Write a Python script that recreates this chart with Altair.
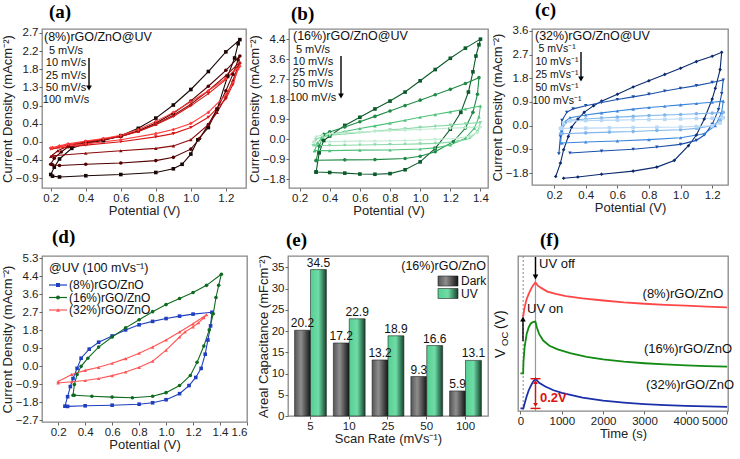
import altair as alt
import pandas as pd

FONT = "Liberation Sans"
SERIF = "Liberation Serif"

# ---------------- (a) (8%)rGO/ZnO@UV ----------------
A_LABEL = "(8%)rGO/ZnO@UV"
A_RATES = ["5 mV/s", "10 mV/s", "25 mV/s", "50 mV/s", "100 mV/s"]
A_FWD_V = [
    [0.20, 0.22, 0.25, 0.32, 0.40, 0.50, 0.60, 0.70, 0.80, 0.90, 1.00, 1.10, 1.20, 1.28],
    [0.20, 0.22, 0.26, 0.30, 0.40, 0.50, 0.60, 0.70, 0.80, 0.90, 1.00, 1.10, 1.20, 1.28],
    [0.20, 0.24, 0.30, 0.40, 0.50, 0.60, 0.70, 0.80, 0.90, 1.00, 1.10, 1.20, 1.28],
    [0.20, 0.25, 0.30, 0.40, 0.50, 0.60, 0.70, 0.80, 0.90, 1.00, 1.10, 1.20, 1.28],
    [0.20, 0.25, 0.30, 0.40, 0.50, 0.60, 0.70, 0.80, 0.90, 1.00, 1.10, 1.20, 1.28],
]
A_FWD_J = [
    [-0.80, -0.62, -0.42, -0.16, -0.04, 0.03, 0.15, 0.33, 0.58, 0.90, 1.28, 1.72, 2.20, 2.50],
    [-0.55, -0.40, -0.25, -0.12, -0.02, 0.05, 0.13, 0.27, 0.46, 0.70, 1.00, 1.36, 1.75, 2.10],
    [-0.36, -0.22, -0.10, 0.00, 0.06, 0.14, 0.26, 0.43, 0.65, 0.92, 1.25, 1.62, 1.95],
    [-0.18, -0.12, -0.07, 0.00, 0.06, 0.13, 0.25, 0.42, 0.62, 0.88, 1.18, 1.52, 1.90],
    [-0.15, -0.10, -0.05, 0.02, 0.08, 0.16, 0.30, 0.50, 0.72, 0.98, 1.25, 1.55, 1.85],
]
A_REV_V = [
    [1.27, 1.25, 1.21, 1.15, 1.10, 1.04, 1.00, 0.95, 0.90, 0.80, 0.60, 0.40, 0.25, 0.21],
    [1.27, 1.24, 1.20, 1.15, 1.10, 1.05, 1.00, 0.90, 0.80, 0.60, 0.40, 0.25, 0.21],
    [1.27, 1.24, 1.20, 1.15, 1.10, 1.00, 0.90, 0.80, 0.60, 0.40, 0.21],
    [1.27, 1.24, 1.20, 1.10, 1.00, 0.90, 0.80, 0.60, 0.40, 0.21],
    [1.27, 1.24, 1.20, 1.10, 1.00, 0.90, 0.80, 0.60, 0.40, 0.21],
]
A_REV_J = [
    [2.40, 2.05, 1.60, 0.80, 0.35, 0.05, -0.30, -0.55, -0.66, -0.75, -0.80, -0.83, -0.86, -0.84],
    [2.00, 1.65, 1.25, 0.80, 0.42, 0.08, -0.18, -0.38, -0.46, -0.52, -0.55, -0.58, -0.56],
    [1.85, 1.50, 1.10, 0.72, 0.42, 0.05, -0.10, -0.16, -0.22, -0.28, -0.34],
    [1.80, 1.40, 1.05, 0.60, 0.35, 0.20, 0.12, 0.00, -0.08, -0.17],
    [1.78, 1.45, 1.15, 0.72, 0.45, 0.30, 0.20, 0.05, -0.05, -0.14],
]
A_XTICKS = [0.2, 0.4, 0.6, 0.8, 1.0, 1.2]
A_YTICKS = [-0.888, -0.444, 0.0, 0.444, 0.888, 1.332, 1.776, 2.22, 2.664]

# ---------------- (b) (16%)rGO/ZnO@UV ----------------
B_LABEL = "(16%)rGO/ZnO@UV"
B_RATES = ["5 mV/s", "10 mV/s", "25 mV/s", "50 mV/s", "100 mV/s"]
B_FWD_V = [
    [0.31, 0.33, 0.36, 0.40, 0.50, 0.60, 0.70, 0.80, 0.90, 1.00, 1.10, 1.20, 1.30, 1.40],
    [0.31, 0.33, 0.36, 0.40, 0.50, 0.60, 0.70, 0.80, 0.90, 1.00, 1.10, 1.20, 1.30, 1.39],
    [0.30, 0.32, 0.35, 0.40, 0.50, 0.60, 0.70, 0.80, 0.90, 1.00, 1.10, 1.20, 1.30, 1.40],
    [0.29, 0.31, 0.35, 0.40, 0.50, 0.60, 0.70, 0.80, 0.90, 1.00, 1.10, 1.20, 1.30, 1.40],
    [0.29, 0.31, 0.35, 0.40, 0.50, 0.60, 0.70, 0.80, 0.90, 1.00, 1.10, 1.20, 1.30, 1.40],
]
B_FWD_J = [
    [-1.45, -0.60, -0.05, 0.15, 0.62, 0.98, 1.35, 1.70, 2.10, 2.60, 3.10, 3.60, 4.05, 4.45],
    [-0.95, -0.30, 0.22, 0.33, 0.55, 0.78, 1.02, 1.26, 1.50, 1.74, 1.98, 2.22, 2.48, 2.74],
    [-0.50, -0.15, 0.08, 0.20, 0.35, 0.48, 0.60, 0.72, 0.85, 0.98, 1.10, 1.22, 1.35, 1.48],
    [-0.28, 0.00, 0.12, 0.18, 0.24, 0.30, 0.36, 0.42, 0.47, 0.53, 0.58, 0.63, 0.69, 0.75],
    [-0.12, 0.12, 0.20, 0.25, 0.29, 0.32, 0.35, 0.38, 0.41, 0.44, 0.47, 0.50, 0.52, 0.55],
]
B_REV_V = [
    [1.39, 1.37, 1.35, 1.32, 1.27, 1.20, 1.10, 1.00, 0.90, 0.80, 0.70, 0.60, 0.50, 0.40, 0.31],
    [1.38, 1.35, 1.30, 1.22, 1.10, 1.00, 0.90, 0.70, 0.50, 0.31],
    [1.39, 1.36, 1.30, 1.20, 1.10, 1.00, 0.80, 0.60, 0.40, 0.30],
    [1.38, 1.33, 1.25, 1.10, 1.00, 0.90, 0.80, 0.70, 0.60, 0.50, 0.40, 0.30],
    [1.38, 1.33, 1.25, 1.10, 1.00, 0.90, 0.80, 0.70, 0.60, 0.50, 0.40, 0.30],
]
B_REV_J = [
    [4.20, 3.70, 3.00, 2.10, 1.20, 0.45, -0.40, -1.00, -1.35, -1.52, -1.55, -1.54, -1.50, -1.47, -1.45],
    [2.00, 1.20, 0.50, -0.10, -0.55, -0.75, -0.85, -0.90, -0.91, -0.93],
    [1.00, 0.50, 0.05, -0.25, -0.38, -0.43, -0.47, -0.48, -0.50, -0.50],
    [0.35, 0.05, -0.10, -0.18, -0.20, -0.22, -0.23, -0.24, -0.25, -0.26, -0.27, -0.28],
    [0.30, 0.15, 0.05, 0.00, -0.03, -0.05, -0.06, -0.07, -0.08, -0.09, -0.10, -0.12],
]
B_XTICKS = [0.2, 0.4, 0.6, 0.8, 1.0, 1.2, 1.4]
B_YTICKS = [-1.776, -0.888, 0.0, 0.888, 1.776, 2.664, 3.552, 4.44]

# ---------------- (c) (32%)rGO/ZnO@UV ----------------
C_LABEL = "(32%)rGO/ZnO@UV"
C_RATES = ["5 mVs⁻¹", "10 mVs⁻¹", "25 mVs⁻¹", "50 mVs⁻¹", "100 mVs⁻¹"]
C_FWD_V = [
    [0.21, 0.24, 0.26, 0.29, 0.31, 0.35, 0.39, 0.45, 0.50, 0.60, 0.70, 0.80, 0.90, 1.00, 1.10, 1.20, 1.26],
    [0.23, 0.24, 0.25, 0.28, 0.32, 0.40, 0.50, 0.60, 0.70, 0.80, 0.90, 1.00, 1.10, 1.20, 1.27],
    [0.24, 0.25, 0.27, 0.30, 0.40, 0.50, 0.60, 0.70, 0.80, 0.90, 1.00, 1.10, 1.20, 1.27],
    [0.24, 0.26, 0.30, 0.40, 0.50, 0.60, 0.70, 0.80, 0.90, 1.00, 1.10, 1.20, 1.27],
    [0.24, 0.26, 0.30, 0.40, 0.50, 0.60, 0.70, 0.80, 0.90, 1.00, 1.10, 1.20, 1.27],
]
C_FWD_J = [
    [-1.90, -1.40, -0.90, -0.40, -0.06, 0.25, 0.50, 0.75, 0.92, 1.18, 1.45, 1.68, 1.92, 2.15, 2.40, 2.60, 2.75],
    [-1.05, -0.40, 0.20, 0.50, 0.63, 0.75, 0.87, 0.98, 1.08, 1.18, 1.30, 1.40, 1.50, 1.62, 1.71],
    [-0.65, -0.20, 0.15, 0.30, 0.40, 0.48, 0.55, 0.62, 0.68, 0.73, 0.78, 0.83, 0.88, 0.92],
    [-0.30, 0.05, 0.20, 0.25, 0.29, 0.32, 0.35, 0.38, 0.40, 0.42, 0.45, 0.47, 0.50],
    [-0.10, 0.10, 0.18, 0.19, 0.20, 0.21, 0.22, 0.23, 0.24, 0.25, 0.27, 0.28, 0.30],
]
C_REV_V = [
    [1.25, 1.22, 1.20, 1.15, 1.10, 1.05, 0.96, 0.85, 0.70, 0.50, 0.35, 0.26],
    [1.26, 1.24, 1.20, 1.15, 1.10, 1.00, 0.85, 0.70, 0.50, 0.30],
    [1.26, 1.22, 1.15, 1.00, 0.80, 0.60, 0.40, 0.25],
    [1.25, 1.20, 1.10, 1.00, 0.85, 0.70, 0.55, 0.40, 0.25],
    [1.25, 1.20, 1.10, 1.00, 0.85, 0.70, 0.55, 0.40, 0.25],
]
C_REV_J = [
    [2.10, 1.40, 1.00, 0.25, -0.35, -0.75, -1.30, -1.55, -1.70, -1.82, -1.92, -1.97],
    [1.20, 0.60, 0.05, -0.35, -0.55, -0.70, -0.80, -0.88, -0.95, -1.02],
    [0.50, 0.00, -0.30, -0.45, -0.52, -0.57, -0.61, -0.65],
    [0.20, 0.00, -0.10, -0.15, -0.18, -0.22, -0.24, -0.27, -0.30],
    [0.10, 0.00, -0.03, -0.05, -0.06, -0.07, -0.08, -0.09, -0.10],
]
C_XTICKS = [0.2, 0.4, 0.6, 0.8, 1.0, 1.2]
C_YTICKS = [-1.776, -0.888, 0.0, 0.888, 1.776, 2.664, 3.552]

# ---------------- (d) @UV (100 mVs-1) ----------------
D_LABEL = "@UV (100 mVs⁻¹)"
D_NAMES = ["(8%)rGO/ZnO", "(16%)rGO/ZnO", "(32%)rGO/ZnO"]
D_FWD_V = [
    [0.25, 0.27, 0.29, 0.31, 0.34, 0.37, 0.43, 0.50, 0.60, 0.70, 0.80, 0.90, 1.00, 1.10, 1.20, 1.34],
    [0.31, 0.32, 0.34, 0.37, 0.42, 0.50, 0.60, 0.70, 0.80, 0.90, 1.00, 1.10, 1.20, 1.30, 1.41],
    [0.20, 0.30, 0.40, 0.50, 0.60, 0.70, 0.80, 0.90, 1.00, 1.10, 1.20, 1.30],
]
D_FWD_J = [
    [-1.97, -1.50, -1.00, -0.60, -0.10, 0.40, 0.85, 1.19, 1.50, 1.80, 2.05, 2.22, 2.36, 2.48, 2.58, 2.67],
    [-1.43, -0.90, -0.40, 0.00, 0.40, 0.95, 1.45, 1.90, 2.30, 2.70, 3.05, 3.35, 3.65, 4.00, 4.55],
    [-0.75, -0.40, -0.20, -0.05, 0.15, 0.38, 0.65, 0.95, 1.30, 1.70, 2.10, 2.55],
]
D_REV_V = [
    [1.33, 1.31, 1.29, 1.26, 1.22, 1.17, 1.10, 1.00, 0.90, 0.80, 0.60, 0.40, 0.27],
    [1.39, 1.37, 1.35, 1.32, 1.28, 1.23, 1.18, 1.10, 1.00, 0.90, 0.75, 0.60, 0.45, 0.32],
    [1.28, 1.24, 1.20, 1.14, 1.10, 1.00, 0.90, 0.80, 0.70, 0.60, 0.50, 0.40, 0.30, 0.20],
]
D_REV_J = [
    [2.00, 1.30, 0.60, -0.10, -0.55, -0.95, -1.35, -1.65, -1.80, -1.87, -1.92, -1.95, -1.98],
    [4.00, 3.40, 2.60, 1.80, 1.00, 0.20, -0.45, -0.95, -1.30, -1.48, -1.55, -1.52, -1.48, -1.43],
    [2.40, 2.15, 1.95, 1.70, 1.45, 0.80, 0.25, -0.05, -0.28, -0.46, -0.60, -0.70, -0.76, -0.82],
]
D_XTICKS = [0.2, 0.4, 0.6, 0.8, 1.0, 1.2, 1.4, 1.6]
D_YTICKS = [-2.664, -1.776, -0.888, 0.0, 0.888, 1.776, 2.664, 3.552, 4.44, 5.328]

# ---------------- (e) areal capacitance ----------------
E_LABEL = "(16%)rGO/ZnO"
E_RATES = ["5", "10", "25", "50", "100"]
E_CONDS = ["Dark", "UV"]
E_DARK = [20.2, 17.2, 13.2, 9.3, 5.9]
E_UV = [34.5, 22.9, 18.9, 16.6, 13.1]
E_YTICKS = [0, 5, 10, 15, 20, 25, 30, 35]

# ---------------- (f) open-circuit voltage ----------------
F_NAMES = ["(8%)rGO/ZnO", "(16%)rGO/ZnO", "(32%)rGO/ZnO"]
F_T = [
    [40, 70, 100, 150, 200, 250, 300, 360, 420, 500, 650, 850, 1100, 1500, 2000, 2500, 3000, 3500, 4000, 4500, 5000],
    [0, 65, 72, 100, 150, 200, 250, 300, 360, 400, 450, 550, 700, 900, 1200, 1600, 2000, 2500, 3000, 3500, 4000, 4500, 5000],
    [0, 70, 100, 150, 200, 250, 300, 363, 450, 600, 800, 1000, 1500, 2000, 2500, 3000, 3500, 4000, 4500, 5000],
]
F_V = [
    [0.640, 0.645, 0.700, 0.755, 0.790, 0.820, 0.845, 0.867, 0.845, 0.830, 0.805, 0.789, 0.775, 0.760, 0.745, 0.732, 0.723, 0.716, 0.710, 0.704, 0.698],
    [0.254, 0.254, 0.330, 0.430, 0.520, 0.565, 0.590, 0.600, 0.603, 0.560, 0.520, 0.475, 0.440, 0.415, 0.390, 0.365, 0.348, 0.333, 0.322, 0.314, 0.308, 0.303, 0.299],
    [0.018, 0.018, 0.050, 0.100, 0.140, 0.170, 0.195, 0.218, 0.190, 0.165, 0.140, 0.122, 0.090, 0.070, 0.057, 0.047, 0.040, 0.035, 0.031, 0.028],
]
F_EVENTS = [65, 363]
F_XTICKS = [0, 1000, 2000, 3000, 4000, 5000]


def loop_frame(names, fv, fj, rv, rj):
    rows = []
    for k, name in enumerate(names):
        vs = list(fv[k]) + list(rv[k])
        js = list(fj[k]) + list(rj[k])
        for i, (v, j) in enumerate(zip(vs, js)):
            rows.append({"s": name, "o": i, "v": v, "j": j})
    return pd.DataFrame(rows)


def one():
    return pd.DataFrame({"t": [0]})


def txt(s, x, y, size=12, align="left", color="#111", weight="normal", font=FONT, angle=0):
    return alt.Chart(pd.DataFrame({"t": [s]})).mark_text(
        align=align, baseline="middle", fontSize=size, color=color,
        fontWeight=weight, font=font, angle=angle,
    ).encode(text="t:N", x=alt.value(x), y=alt.value(y))


def vrule(x, y1, y2, color="black", width=1.3):
    return alt.Chart(one()).mark_rule(color=color, strokeWidth=width).encode(
        x=alt.value(x), y=alt.value(y1), y2=alt.value(y2))


def hrule(x1, x2, y, color="black", width=1.3):
    return alt.Chart(one()).mark_rule(color=color, strokeWidth=width).encode(
        x=alt.value(x1), x2=alt.value(x2), y=alt.value(y))


def head(x, y, shape, color="black", size=30):
    return alt.Chart(one()).mark_point(shape=shape, filled=True, color=color,
                                       size=size, opacity=1).encode(
        x=alt.value(x), y=alt.value(y))


def title(s, dx):
    return alt.TitleParams(text=s, font=SERIF, fontSize=19, fontWeight="bold",
                           anchor="start", frame="group", dx=dx, offset=5, color="black")


def cv_panel(tname, tdx, names, colors, shapes, fv, fj, rv, rj, xdom, ydom, xt, yt, w, h, notes):
    df = loop_frame(names, fv, fj, rv, rj)
    base = alt.Chart(df)
    X = alt.X("v:Q", scale=alt.Scale(domain=xdom, nice=False, zero=False),
              axis=alt.Axis(values=xt, format=".1f", title="Potential (V)"))
    Y = alt.Y("j:Q", scale=alt.Scale(domain=ydom, nice=False, zero=False),
              axis=alt.Axis(values=yt, format=".1f", title="Current Density (mAcm⁻²)"))
    C = alt.Color("s:N", scale=alt.Scale(domain=names, range=colors), legend=None)
    S = alt.Shape("s:N", scale=alt.Scale(domain=names, range=shapes), legend=None)
    lines = base.mark_line(strokeWidth=1.1, clip=True).encode(X, Y, C, order=alt.Order("o:Q"))
    pts = base.mark_point(filled=True, size=13, clip=True, opacity=1).encode(X, Y, C, S)
    return alt.layer(lines, pts, *notes).properties(width=w, height=h, title=title(tname, tdx))


def rate_notes(label, rates, lx, ly, cx, ys, ax, ay1, ay2, size=11):
    out = [txt(label, lx, ly, size=12.5)]
    for r, y in zip(rates, ys):
        out.append(txt(r, cx, y, size=size, align="center"))
    out.append(vrule(ax, ay1, ay2 - 4, width=1.4))
    out.append(head(ax, ay2 - 3, "triangle-down", size=32))
    return out


A_COLORS = ["#1a0606", "#520000", "#8c0a0a", "#d61616", "#ff3a3a"]
A_SHAPES = ["square", "circle", "triangle-up", "triangle-down", "diamond"]
pa = cv_panel("(a)", 7, A_RATES, A_COLORS, A_SHAPES, A_FWD_V, A_FWD_J, A_REV_V, A_REV_J,
              [0.15, 1.315], [-1.13, 2.76], A_XTICKS, A_YTICKS, 204, 159,
              rate_notes(A_LABEL, [("\u2007" + r) if r.startswith("5 ") else r for r in A_RATES],
                         2, 8, 24, [22, 34, 46.5, 58.5, 71], 47, 29, 62))

B_COLORS = ["#0b5a2a", "#1f8a45", "#4fc07a", "#8ad9a8", "#c3ecd2"]
B_SHAPES = ["square", "circle", "triangle-up", "triangle-down", "diamond"]
pb = cv_panel("(b)", 2, B_RATES, B_COLORS, B_SHAPES, B_FWD_V, B_FWD_J, B_REV_V, B_REV_J,
              [0.13, 1.45], [-2.16, 4.9], B_XTICKS, B_YTICKS, 199, 159,
              rate_notes(B_LABEL, B_RATES, 4, 7, 24, [21, 33, 44, 55, 69], 52, 27, 70))

C_COLORS = ["#0a2a6e", "#1a4fa8", "#3a85dc", "#7fb6ee", "#b8d8f6"]
C_SHAPES = ["diamond", "triangle-down", "triangle-up", "circle", "square"]
pc = cv_panel("(c)", 3, C_RATES, C_COLORS, C_SHAPES, C_FWD_V, C_FWD_J, C_REV_V, C_REV_J,
              [0.06, 1.30], [-2.22, 3.62], C_XTICKS, C_YTICKS, 196, 156,
              rate_notes(C_LABEL, C_RATES, 3, 7, 25, [19.5, 33, 45.5, 58.5, 71.5], 49, 23, 53,
                         size=10.5))

D_COLORS = ["#1f3fbf", "#0e6b1e", "#ff5555"]
D_SHAPES = ["square", "circle", "triangle-up"]
d_notes = [txt(D_LABEL, 7, 12, size=12.5)]
for i, (n, c, s) in enumerate(zip(D_NAMES, D_COLORS, D_SHAPES)):
    yy = 29 + 12.5 * i
    d_notes.append(hrule(7, 25, yy, color=c, width=1.2))
    d_notes.append(head(16, yy, s, color=c, size=16))
    d_notes.append(txt(n, 27, yy, size=12))
pd_ = cv_panel("(d)", 10, D_NAMES, D_COLORS, D_SHAPES, D_FWD_V, D_FWD_J, D_REV_V, D_REV_J,
               [0.08, 1.6], [-2.75, 5.45], D_XTICKS, D_YTICKS, 205, 166, d_notes)

# ---------------- (e) chart ----------------
GRAD_DARK = alt.LinearGradient(gradient="linear", x1=0, x2=1, y1=0, y2=0, stops=[
    alt.GradientStop(color="#555555", offset=0), alt.GradientStop(color="#8e8e8e", offset=0.4),
    alt.GradientStop(color="#151515", offset=1)])
GRAD_UV = alt.LinearGradient(gradient="linear", x1=0, x2=1, y1=0, y2=0, stops=[
    alt.GradientStop(color="#55cf92", offset=0), alt.GradientStop(color="#6fdca7", offset=0.5),
    alt.GradientStop(color="#14422b", offset=1)])

edf = pd.DataFrame({"rate": E_RATES * 2, "cond": [E_CONDS[0]] * 5 + [E_CONDS[1]] * 5,
                    "val": E_DARK + E_UV})
EX = alt.X("rate:N", sort=E_RATES, scale=alt.Scale(paddingInner=0.18, paddingOuter=0.17),
           axis=alt.Axis(title="Scan Rate (mVs⁻¹)", labelAngle=0))
EXO = alt.XOffset("cond:N", scale=alt.Scale(domain=E_CONDS))
EY = alt.Y("val:Q", scale=alt.Scale(domain=[0, 37.7], nice=False),
           axis=alt.Axis(values=E_YTICKS, format="d", title="Areal Capacitance (mFcm⁻²)"))
ebase = alt.Chart(edf)
e_dark = ebase.transform_filter(alt.datum.cond == "Dark").mark_bar(
    color=GRAD_DARK, stroke="#222", strokeWidth=0.6).encode(EX, EXO, EY)
e_uv = ebase.transform_filter(alt.datum.cond == "UV").mark_bar(
    color=GRAD_UV, stroke="#222", strokeWidth=0.6).encode(EX, EXO, EY)
e_lab = ebase.mark_text(dy=-7, fontSize=12, font=FONT, color="#111").encode(
    EX, EXO, EY, text=alt.Text("val:Q", format=".1f"))
e_notes = [txt(E_LABEL, 198, 10, size=12.5, align="right")]
for i, (cname, g) in enumerate(zip(E_CONDS, [GRAD_DARK, GRAD_UV])):
    yy = 25 + 12.5 * i
    e_notes.append(alt.Chart(one()).mark_rect(color=g, stroke="#222", strokeWidth=0.6).encode(
        x=alt.value(150), x2=alt.value(170), y=alt.value(yy - 5), y2=alt.value(yy + 5)))
    e_notes.append(txt(cname, 173, yy, size=12))
pe = alt.layer(e_dark, e_uv, e_lab, *e_notes).properties(width=200, height=160, title=title("(e)", -2))

# ---------------- (f) chart ----------------
F_COLORS = ["#ff4747", "#138a13", "#1a2fa8"]
frows = []
for n, ts, vs in zip(F_NAMES, F_T, F_V):
    for i, (t, v) in enumerate(zip(ts, vs)):
        frows.append({"s": n, "o": i, "t": t, "y": v})
fdf = pd.DataFrame(frows)
FX = alt.X("t:Q", scale=alt.Scale(domain=[-60, 5020], nice=False, zero=False),
           axis=alt.Axis(values=F_XTICKS, format="d", title="Time (s)"))
FY = alt.Y("y:Q", scale=alt.Scale(domain=[0, 1.045], nice=False), axis=None)
f_lines = alt.Chart(fdf).mark_line(strokeWidth=1.8, clip=True).encode(
    FX, FY, color=alt.Color("s:N", scale=alt.Scale(domain=F_NAMES, range=F_COLORS), legend=None),
    order=alt.Order("o:Q"))
f_on = alt.Chart(pd.DataFrame({"t": F_EVENTS[:1]})).mark_rule(
    color="#888", strokeWidth=1, strokeDash=[2, 2]).encode(FX, y=alt.value(0), y2=alt.value(155))
f_off = alt.Chart(pd.DataFrame({"t": F_EVENTS[1:]})).mark_rule(
    color="#999", strokeWidth=1.2).encode(FX, y=alt.value(0), y2=alt.value(155))
f_notes = [
    txt(F_NAMES[0], 165, 38, size=13, align="center"),
    txt(F_NAMES[1], 170, 93, size=13, align="center"),
    txt(F_NAMES[2], 172, 129, size=13, align="center"),
    txt("UV off", 21, 8, size=13),
    txt("UV on", 9, 53, size=13),
    txt("0.2V", 22, 142, size=13, color="#e01010", weight="bold"),
    vrule(17.5, 1, 20, width=1.4), head(17.5, 21, "triangle-down", size=32),
    vrule(5, 85, 65, width=1.4), head(5, 63, "triangle-up", size=32),
    vrule(17.5, 126, 149, color="#e01010", width=1.4),
    head(17.5, 126, "triangle-up", color="#e01010", size=22),
    head(17.5, 149, "triangle-down", color="#e01010", size=22),
    hrule(12.5, 22.5, 122.7, color="#e01010", width=1.4),
    hrule(12.5, 22.5, 152.4, color="#e01010", width=1.4),
    txt("V", -17, 102, size=14, angle=270),
    txt("OC", -13, 90, size=9.5, angle=270),
    txt("(V)", -17, 73, size=14, angle=270),
]
pf = alt.layer(f_on, f_off, f_lines, *f_notes).properties(width=210, height=155, title=title("(f)", 22))

RES = dict(color="independent", shape="independent")
row1 = alt.hconcat(pa, alt.hconcat(pb, pc, spacing=0).resolve_scale(**RES), spacing=0).resolve_scale(**RES)
row2 = alt.hconcat(pd_, alt.hconcat(pe, pf, spacing=4).resolve_scale(**RES), spacing=7).resolve_scale(**RES)
chart = alt.vconcat(row1, row2, spacing=8).resolve_scale(**RES).properties(
    padding={"left": 0, "top": 0, "right": 0, "bottom": 0}
).configure(font=FONT).configure_view(
    stroke="#888", strokeWidth=1.3
).configure_axis(
    labelFont=FONT, titleFont=FONT, labelFontSize=11.5, titleFontSize=13,
    titleFontWeight="normal", labelColor="#222", titleColor="#222",
    tickColor="#666", tickSize=3, domain=False, grid=False, labelPadding=1, titlePadding=1,
)

chart.save("out.html", embed_options={"renderer": "svg", "actions": False})
